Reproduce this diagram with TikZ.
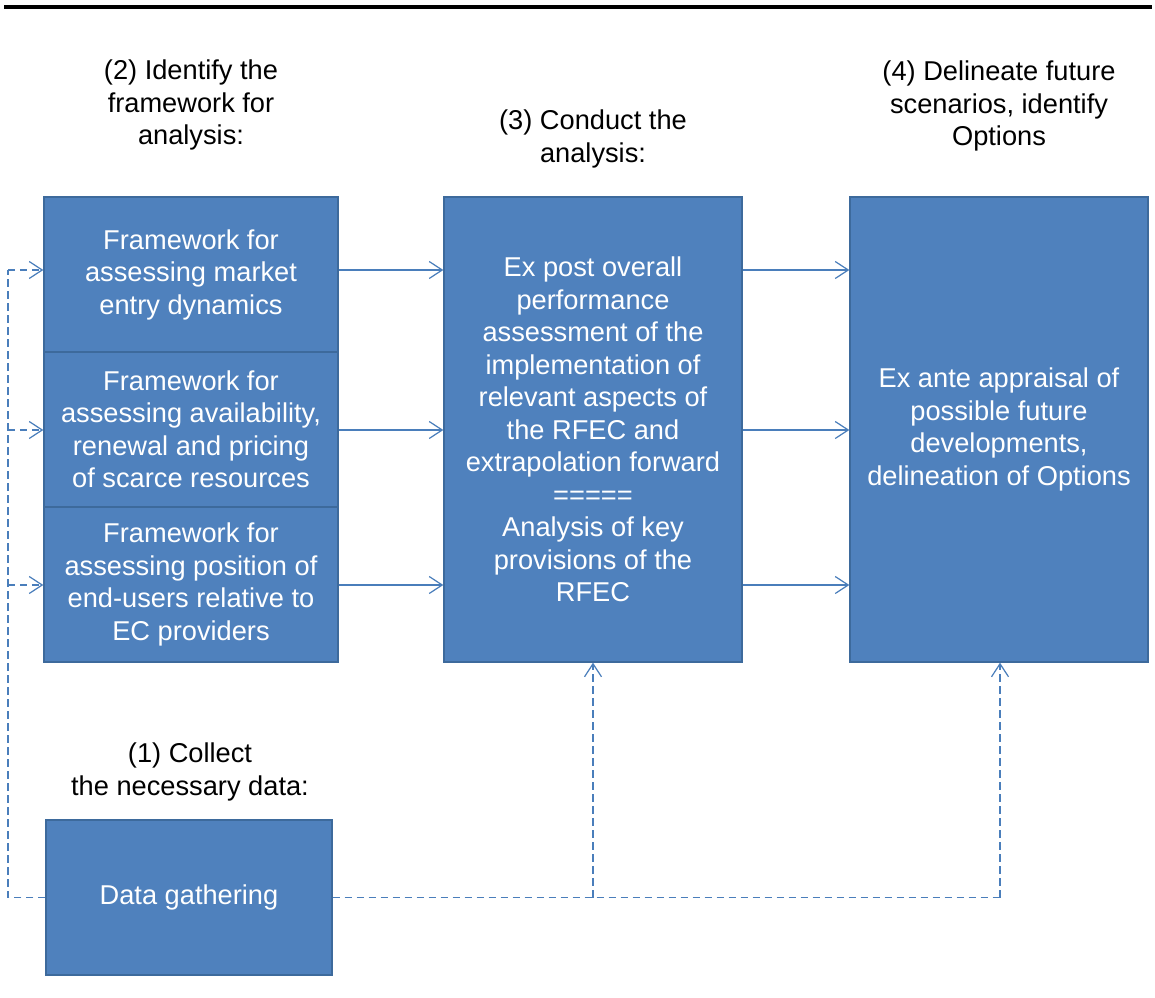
\documentclass[tikz,border=0pt]{standalone}
\usepackage{fontspec}
\setmainfont{Liberation Sans}
\usetikzlibrary{arrows.meta,calc}
\definecolor{boxblue}{HTML}{4F81BD}
\definecolor{boxedge}{HTML}{3D6A9C}
\definecolor{lineblue}{HTML}{4A7EBB}
\tikzset{>=Latex}
\tikzstyle{blk}=[draw=boxedge,fill=boxblue,text=white,align=center,inner sep=0pt,line width=0.8pt,font=\fontsize{15.5}{18.5}\selectfont]
\tikzstyle{ttl}=[align=center,inner sep=0pt,font=\fontsize{15.5}{18.5}\selectfont]
\tikzstyle{arw}=[-{Straight Barb[length=2.6mm,width=3.4mm]},draw=lineblue,line width=0.7pt]
\tikzstyle{dsh}=[draw=lineblue,line width=0.75pt,dash pattern=on 1.5mm off 0.9mm]

\begin{document}
\begin{tikzpicture}[x=0.02cm,y=-0.02cm]
    \useasboundingbox (0,0) rectangle (1155,997);
    \coordinate (L0) at (4,7);
    \coordinate (L1) at (1152,7);
    \draw[line width=2.2pt] (L0) -- (L1);

    % titles
    \node[ttl] (t2) at (191,105) {(2) Identify the\\framework for\\analysis:};
    \node[ttl] (t3) at (593,139) {(3) Conduct the\\analysis:};
    \node[ttl] (t4) at (999,106) {(4) Delineate future\\scenarios, identify\\Options};
    \node[ttl] (t1) at (190,772) {(1) Collect\\the necessary data:};

    % boxes
    \node[blk,minimum width=5.88cm,minimum height=3.1cm] (fw1) at (191,274.5)
        {Framework for\\assessing market\\entry dynamics};
    \node[blk,minimum width=5.88cm,minimum height=3.1cm] (fw2) at (191,429.5)
        {Framework for\\assessing availability,\\renewal and pricing\\of scarce resources};
    \node[blk,minimum width=5.88cm,minimum height=3.1cm] (fw3) at (191,584.5)
        {Framework for\\assessing position of\\end-users relative to\\EC providers};
    \node[blk,minimum width=5.96cm,minimum height=9.3cm] (mid) at (593,429.5)
        {Ex post overall\\performance\\assessment of the\\implementation of\\relevant aspects of\\the RFEC and\\extrapolation forward\\=====\\Analysis of key\\provisions of the\\RFEC};
    \node[blk,minimum width=5.96cm,minimum height=9.3cm] (rgt) at (999,429.5)
        {Ex ante appraisal of\\possible future\\developments,\\delineation of Options};
    \node[blk,minimum width=5.72cm,minimum height=3.1cm] (dat) at (189,897.5)
        {Data gathering};

    \coordinate (a1) at (0,270);
    \coordinate (a2) at (0,430);
    \coordinate (a3) at (0,585);
    \draw[arw] (fw1.east |- a1) -- (mid.west |- a1);
    \draw[arw] (fw2.east |- a2) -- (mid.west |- a2);
    \draw[arw] (fw3.east |- a3) -- (mid.west |- a3);
    \draw[arw] (mid.east |- a1) -- (rgt.west |- a1);
    \draw[arw] (mid.east |- a2) -- (rgt.west |- a2);
    \draw[arw] (mid.east |- a3) -- (rgt.west |- a3);

    % data feeds
    \coordinate (dl) at (8,897.5);
    \coordinate (dr) at (1000,897.5);
    \draw[dsh] (dat.west) -- (dl) -- (dl |- a1);
    \draw[dsh,arw] (dl |- a1) -- (fw1.west |- a1);
    \draw[dsh,arw] (dl |- a2) -- (fw2.west |- a2);
    \draw[dsh,arw] (dl |- a3) -- (fw3.west |- a3);
    \draw[dsh] (dat.east) -- (dr);
    \draw[dsh,arw] (mid.south |- dat.east) -- (mid.south);
    \draw[dsh,arw] (dr) -- (dr |- rgt.south);
\end{tikzpicture}
\end{document}
